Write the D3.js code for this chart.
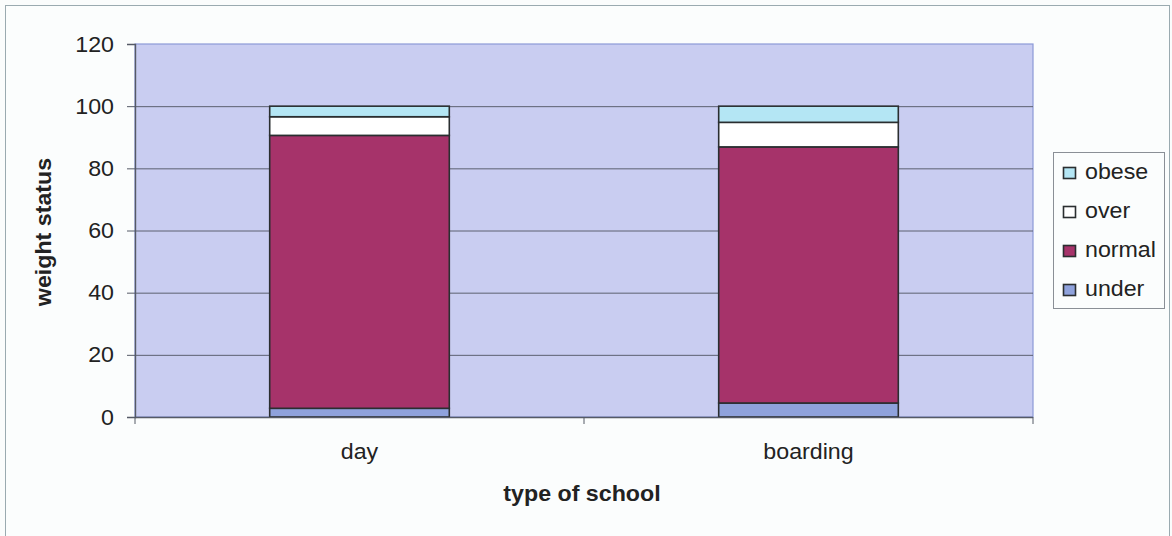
<!DOCTYPE html>
<html>
<head>
<meta charset="utf-8">
<script src="https://cdn.jsdelivr.net/npm/d3@7"></script>
<style>
  html, body { margin: 0; padding: 0; background: #fafcfc; }
  svg { display: block; font-family: Arial, "Liberation Sans", sans-serif; }
</style>
</head>
<body>
<svg id="chart" width="1172" height="536"></svg>
<script>
// School types on the x axis
const categories = ["day", "boarding"];
// Weight-status shares (%) per school type, stacked bottom to top
const under  = [2.8, 4.5];
const normal = [87.8, 82.4];
const over   = [6.0, 7.9];
const obese  = [3.4, 5.2];
const seriesNames = ["under", "normal", "over", "obese"];
const yTicks = [0, 20, 40, 60, 80, 100, 120];

const colors = { under: "#8fa2dc", normal: "#a6336a", over: "#ffffff", obese: "#b4e6f4" };

const svg = d3.select("#chart");
const W = 1172, H = 536;
const plot = { left: 135, right: 1033, top: 44, bottom: 417 };
const FONT = 21.5, STRETCH = 1.08;

// text drawn slightly wide, the way the chart's typeface appears
function label(parent, x, y, str, opts = {}) {
  const g = parent.append("g")
    .attr("transform", `translate(${x},${y}) rotate(${opts.rotate || 0}) scale(${STRETCH},1)`);
  return g.append("text")
    .attr("text-anchor", opts.anchor || "start")
    .attr("dy", opts.dy || 0)
    .attr("font-size", opts.size || FONT)
    .attr("font-weight", opts.bold ? "bold" : "normal")
    .attr("fill", "#222")
    .text(str);
}

// outer chart frame
svg.append("rect").attr("x", 5.5).attr("y", 5.5).attr("width", W - 8).attr("height", H + 10)
  .attr("fill", "#fbfdfd").attr("stroke", "#9aaab0").attr("stroke-width", 1);

const x = d3.scaleBand().domain(categories).range([plot.left, plot.right])
  .paddingInner(0.6).paddingOuter(0.3);
const xGroup = d3.scaleBand().domain(categories).range([plot.left, plot.right]);
const y = d3.scaleLinear().domain([0, 120]).range([plot.bottom, plot.top]);

// plot area
svg.append("rect").attr("x", plot.left).attr("y", plot.top)
  .attr("width", plot.right - plot.left).attr("height", plot.bottom - plot.top)
  .attr("fill", "#c9cdf1").attr("stroke", "#8c9ad8").attr("stroke-width", 1.2);

// horizontal gridlines
svg.append("g").selectAll("line").data(yTicks.filter(d => d > 0 && d < 120)).join("line")
  .attr("x1", plot.left).attr("x2", plot.right)
  .attr("y1", d => y(d) + 0.5).attr("y2", d => y(d) + 0.5)
  .attr("stroke", "#5c6070").attr("stroke-width", 1);

// stacked data
const rows = categories.map((c, i) => ({ cat: c, under: under[i], normal: normal[i], over: over[i], obese: obese[i] }));
const stacked = d3.stack().keys(seriesNames)(rows);

svg.append("g").selectAll("g").data(stacked).join("g")
  .attr("fill", d => colors[d.key])
  .selectAll("rect").data(d => d).join("rect")
  .attr("x", d => x(d.data.cat))
  .attr("y", d => y(d[1]))
  .attr("width", x.bandwidth())
  .attr("height", d => y(d[0]) - y(d[1]))
  .attr("stroke", "#2a2e30").attr("stroke-width", 1.6);

// y axis line and ticks
const yAxis = d3.axisLeft(y).tickValues(yTicks).tickSize(8).tickFormat("");
const gy = svg.append("g").attr("transform", `translate(${plot.left},0)`).call(yAxis);
gy.select(".domain").attr("stroke", "#555a66").attr("stroke-width", 1.4);
gy.selectAll(".tick line").attr("stroke", "#555a66");
// y tick labels
const yLab = svg.append("g");
yTicks.forEach(t => label(yLab, 114, y(t), String(t), { anchor: "end", dy: "0.35em" }));

// x axis: baseline with tick marks between categories
svg.append("line").attr("x1", plot.left).attr("x2", plot.right)
  .attr("y1", plot.bottom + 0.5).attr("y2", plot.bottom + 0.5)
  .attr("stroke", "#555a66").attr("stroke-width", 1.4);
const xBounds = categories.map(c => xGroup(c)).concat([plot.right]);
svg.append("g").selectAll("line").data(xBounds).join("line")
  .attr("x1", d => d).attr("x2", d => d)
  .attr("y1", plot.bottom).attr("y2", plot.bottom + 7)
  .attr("stroke", "#555a66").attr("stroke-width", 1);
const xLab = svg.append("g");
categories.forEach(c => label(xLab, x(c) + x.bandwidth() / 2, 459, c, { anchor: "middle" }));

// axis titles
label(svg, (plot.left + plot.right) / 2 - 2, 501, "type of school", { anchor: "middle", bold: true });
label(svg, 51, 232, "weight status", { anchor: "middle", bold: true, rotate: -90 });

// legend
const legend = svg.append("g").attr("transform", "translate(1053,152)");
legend.append("rect").attr("x", 0.5).attr("y", 0.5).attr("width", 111).attr("height", 156)
  .attr("fill", "#fbfdfd").attr("stroke", "#8a8f96").attr("stroke-width", 1);
const legendOrder = seriesNames.slice().reverse();
legendOrder.forEach((name, i) => {
  const base = 27 + i * 39;
  legend.append("rect").attr("x", 10.5).attr("y", base - 11.5).attr("width", 12).attr("height", 11)
    .attr("fill", colors[name]).attr("stroke", "#2a2e30").attr("stroke-width", 1.6);
  label(legend, 32, base, name);
});
</script>
</body>
</html>
